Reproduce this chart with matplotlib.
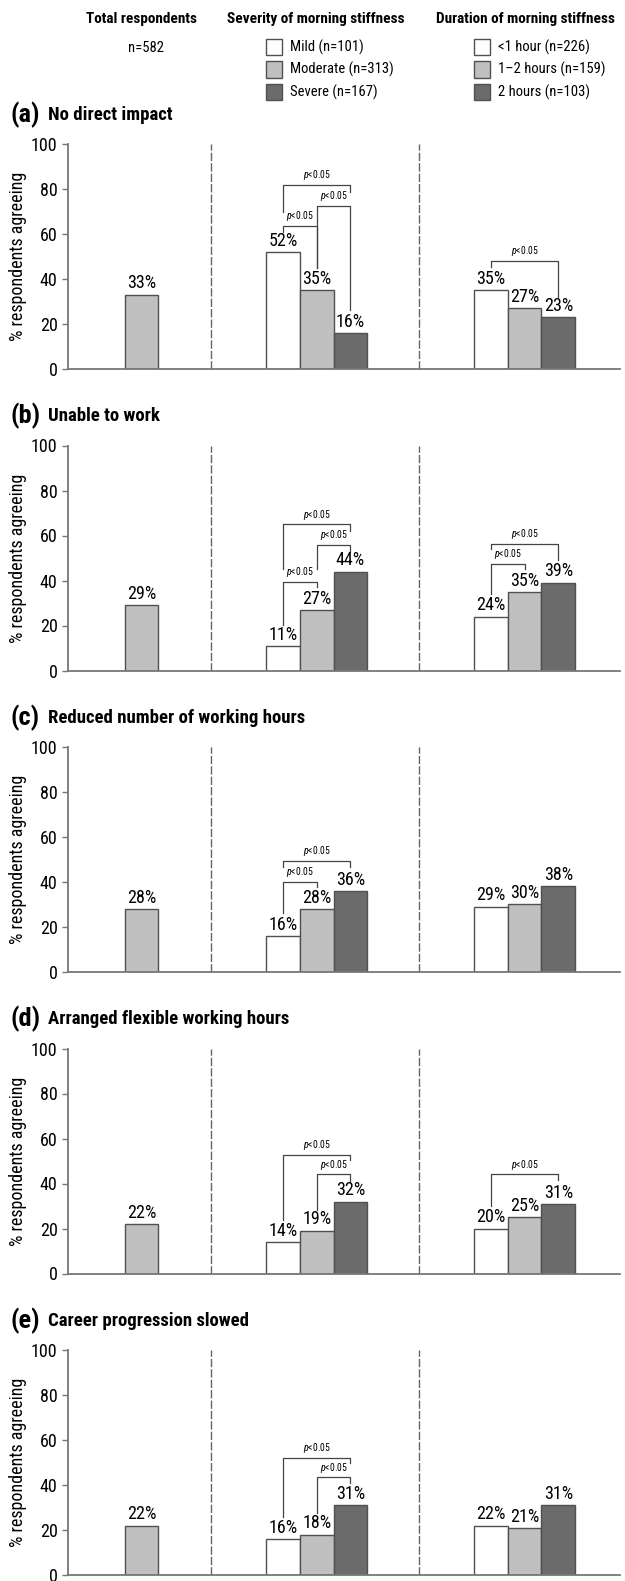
import numpy as np
import matplotlib.pyplot as plt
from matplotlib.patches import Rectangle

plt.rcParams['font.family'] = ['Roboto Condensed', 'DejaVu Sans']
plt.rcParams['mathtext.fontset'] = 'custom'
plt.rcParams['mathtext.it'] = 'Roboto Condensed:italic'
plt.rcParams['mathtext.rm'] = 'Roboto Condensed'

# Данные
panel_tags = ['(a)', '(b)', '(c)', '(d)', '(e)']
panel_titles = ['No direct impact', 'Unable to work', 'Reduced number of working hours',
                'Arranged flexible working hours', 'Career progression slowed']
total_vals = [33, 29, 28, 22, 22]
severity_vals = [[52, 35, 16], [11, 27, 44], [16, 28, 36], [14, 19, 32], [16, 18, 31]]
duration_vals = [[35, 27, 23], [24, 35, 39], [29, 30, 38], [20, 25, 31], [22, 21, 31]]
severity_labels = ['Mild (n=101)', 'Moderate (n=313)', 'Severe (n=167)']
duration_labels = ['<1 hour (n=226)', '1\u20132 hours (n=159)', '2 hours (n=103)']
group_titles = ['Total respondents', 'Severity of morning stiffness', 'Duration of morning stiffness']
total_n = 'n=582'

# скобки значимости: (группа, i, j, высота, низ левой ноги, низ правой ноги)
brackets = [
    [(1, 0, 1, 63.7, 61, 44.8), (1, 1, 2, 72.6, 44.8, 26.2), (1, 0, 2, 81.8, 69.9, 78.8),
     (2, 0, 2, 48, 45.2, 32.1)],
    [(1, 0, 1, 39.3, 20.4, 37.2), (1, 1, 2, 56, 45.3, 53), (1, 0, 2, 64.9, 45.3, 62.2),
     (2, 0, 1, 47.4, 33.8, 44.9), (2, 0, 2, 56.3, 53.8, 49.3)],
    [(1, 0, 1, 40.1, 26, 37.6), (1, 0, 2, 49.3, 46.5, 46.5)],
    [(1, 1, 2, 44.1, 28.2, 41.2), (1, 0, 2, 52.7, 23.8, 50.4),
     (2, 0, 2, 44.1, 30, 41.6)],
    [(1, 1, 2, 43.4, 27.4, 41), (1, 0, 2, 52, 25.6, 49.6)],
]

colors = ['white', '#c0c0c0', '#6b6b6b']
edge = '#505050'
W, H = 625, 1581

fig = plt.figure(figsize=(W / 100, H / 100), dpi=100)


def fx(px):
    return px / W


def fy(py):
    return 1 - py / H


# Заголовки групп
group_cx = [141.5, 316, 525]
for cx, t in zip(group_cx, group_titles):
    fig.text(fx(cx), fy(19), t, ha='center', va='center', fontsize=11, fontweight='bold')
fig.text(fx(146), fy(48), total_n, ha='center', va='center', fontsize=10.5)

for x0, labels in [(266, severity_labels), (474, duration_labels)]:
    for k, lab in enumerate(labels):
        yc = 47 + 22.5 * k
        fig.patches.append(Rectangle((fx(x0), fy(yc + 8)), 16 / W, 16 / H, transform=fig.transFigure,
                                     facecolor=colors[k], edgecolor=edge, lw=1))
        fig.text(fx(x0 + 24), fy(yc), lab, ha='left', va='center', fontsize=10.5)

# Панели
centers = [2.18, 7.38, 13.55]
seps = [4.24, 10.42]
for p in range(5):
    y0 = 369 + 301.5 * p
    ax = fig.add_axes([fx(68), fy(y0), fx(620) - fx(68), 225 / H])
    ax.set_xlim(0, 16.38)
    ax.set_ylim(0, 100)

    ax.bar(centers[0], total_vals[p], width=1, color=colors[1], edgecolor=edge, lw=1)
    ax.text(centers[0], total_vals[p] + 1.0, f'{total_vals[p]}%', ha='center', va='bottom', fontsize=13)
    for g, vals in [(1, severity_vals[p]), (2, duration_vals[p])]:
        xs = centers[g] + np.array([-1, 0, 1])
        ax.bar(xs, vals, width=1, color=colors, edgecolor=edge, lw=1)
        for x, v in zip(xs, vals):
            ax.text(x, v + 1.0, f'{v}%', ha='center', va='bottom', fontsize=13)

    for s in seps:
        ax.plot([s, s], [0, 100], color='#666666', lw=1, ls=(0, (6, 1.5)), clip_on=False)

    for g, i, j, yb, yl, yr in brackets[p]:
        xi = centers[g] + i - 1
        xj = centers[g] + j - 1
        ax.plot([xi, xi, xj, xj], [yl, yb, yb, yr], color='#444444', lw=0.9)
        ax.text((xi + xj) / 2, yb + 1.2, r'$p$<0.05', ha='center', va='bottom', fontsize=7)

    ax.spines['top'].set_visible(False)
    ax.spines['right'].set_visible(False)
    for sp in ['left', 'bottom']:
        ax.spines[sp].set_color('#777777')
        ax.spines[sp].set_linewidth(1.3)
    ax.set_xticks([])
    ax.set_yticks(range(0, 101, 20))
    ax.tick_params(axis='y', length=4, width=1, color='#777777', labelsize=13)
    ax.set_ylabel('% respondents agreeing', fontsize=13, labelpad=3)

    ax.text(-0.105, 1.13, panel_tags[p], transform=ax.transAxes, fontsize=19, fontweight='bold',
            ha='left', va='center')
    ax.text(-0.037, 1.13, panel_titles[p], transform=ax.transAxes, fontsize=13.5, fontweight='bold',
            ha='left', va='center')

fig.savefig('out.png', dpi=100)
